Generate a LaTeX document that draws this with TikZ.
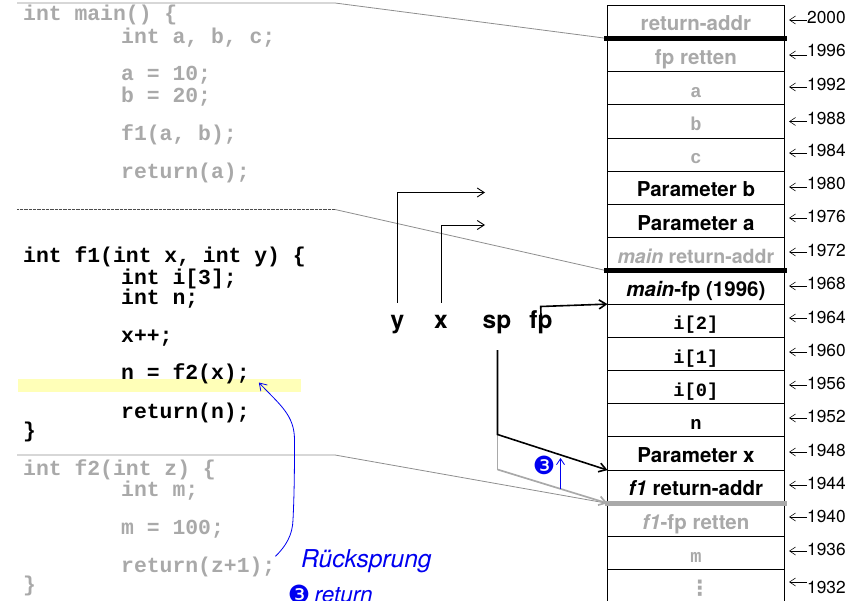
\documentclass[tikz,border=0pt]{standalone}
\usepackage{fontspec}
\setmainfont{TeX Gyre Heros}
\setmonofont{Liberation Mono}
\newfontfamily\dejavu{DejaVu Sans}
\usetikzlibrary{arrows.meta,calc}
\definecolor{fade}{HTML}{A9A9A9}
\definecolor{lead}{HTML}{8E8E8E}
\definecolor{jump}{HTML}{0000F0}
\definecolor{band}{HTML}{FFFFB8}
\tikzset{
  x=1pt,y=-1pt,
  codeline/.style={anchor=base west,inner sep=0pt,font=\fontsize{21.4}{24}\selectfont\ttfamily\bfseries},
  codefade/.style={codeline,text=fade},
  codeblack/.style={codeline,text=black},
  cell/.style={draw=black,line width=0.9pt,anchor=north,minimum width=176.8pt,minimum height=33.2pt,
    inner sep=0pt,outer sep=0pt,text height=25.7pt,text depth=7.5pt,font=\fontsize{20.5}{24}\selectfont\bfseries},
  cellmono/.style={cell,font=\fontsize{18.7}{24}\selectfont\ttfamily\bfseries},
  addr/.style={anchor=base west,inner sep=0pt,font=\fontsize{17.3}{20}\selectfont},
  addrarrow/.style={line width=0.6pt,-{Straight Barb[length=6pt,width=8pt]}},
  var/.style={anchor=base,inner sep=0pt,text height=25pt,font=\fontsize{24.5}{27}\selectfont\bfseries},
  openarrow/.style={-{Straight Barb[length=7pt,width=9pt]}},
  leader/.style={draw=lead,line width=0.8pt},
  bar/.style={line width=5.2pt},
  jumptext/.style={inner sep=0pt,text=jump,font=\fontsize{22.5}{26}\selectfont\itshape},
  jumpmark/.style={inner sep=0pt,text=jump,font=\fontsize{25}{28}\selectfont\dejavu},
}
\begin{document}
\begin{tikzpicture}
\useasboundingbox (0,0) rectangle (866,601);
\clip (0,0) rectangle (866,601);
\fill[band] (18,379) rectangle (301,392);

% main
\node[codefade] (m1) at (23,21) {int main() \{};
\node[codefade] (m2) at (121,44) {int a, b, c;};
\node[codefade] (m3) at (121,81) {a = 10;};
\node[codefade] (m4) at (121,103) {b = 20;};
\node[codefade] (m5) at (121,141) {f1(a, b);};
\node[codefade] (m6) at (121,179) {return(a);};
% f1
\node[codeblack] (f1) at (23,262) {int f1(int x, int y) \{};
\node[codeblack] (f2) at (121,284) {int i[3];};
\node[codeblack] (f3) at (121,304) {int n;};
\node[codeblack] (f4) at (121,342) {x++;};
\node[codeblack] (call) at (121,379.5) {n = f2(x);};
\node[codeblack] (f6) at (121,418) {return(n);};
\node[codeblack] (f7) at (23,437) {\}};
% f2
\node[codefade] (g1) at (23,475) {int f2(int z) \{};
\node[codefade] (g2) at (121,496) {int m;};
\node[codefade] (g3) at (121,534) {m = 100;};
\node[codefade] (ret) at (121,572) {return(z+1);};
\node[codefade] (g5) at (23,591) {\}};

% stack
\node[cell,text=fade] (r1) at (695.9,5.3) {return-addr};
\node[cell,text=fade] (r2) at (r1.south) {fp retten};
\node[cellmono,text=fade] (r3) at (r2.south) {a};
\node[cellmono,text=fade] (r4) at (r3.south) {b};
\node[cellmono,text=fade] (r5) at (r4.south) {c};
\node[cell] (r6) at (r5.south) {Parameter b};
\node[cell] (r7) at (r6.south) {Parameter a};
\node[cell,text=fade,font=\fontsize{19.6}{24}\selectfont\bfseries] (r8) at (r7.south) {\textit{main} return-addr};
\node[cell] (r9) at (r8.south) {\textit{main}-fp (1996)};
\node[cellmono] (r10) at (r9.south) {i[2]};
\node[cellmono] (r11) at (r10.south) {i[1]};
\node[cellmono] (r12) at (r11.south) {i[0]};
\node[cellmono] (r13) at (r12.south) {n};
\node[cell] (r14) at (r13.south) {Parameter x};
\node[cell] (r15) at (r14.south) {\textit{f1} return-addr};
\node[cell,text=fade] (r16) at (r15.south) {\textit{f1}-fp retten};
\node[cellmono,text=fade] (r17) at (r16.south) {m};
\node[cell,text=fade,font=\fontsize{21}{24}\selectfont\dejavu\bfseries] (r18) at (r17.south) {\hspace*{8pt}⋮};

% leaders from the code to the stack
\coordinate (t1) at (17,3);
\coordinate (t1b) at (335,3);
\coordinate (t2) at (17,209.5);
\coordinate (t2b) at (335,209.5);
\coordinate (t3) at (17,455);
\coordinate (t3b) at (335,455);
\draw[leader] (t1) -- (t1b) -- (r1.south west);
\draw[leader,draw=black!70,dash pattern=on 0.8pt off 0.5pt] (t2) -- (t2b);
\draw[leader] (t2b) -- (r8.south west);
\draw[leader] (t3) -- (t3b) -- (r15.south west);

% variables
\node[var] (vy) at (397.5,328) {y};
\node[var] (vx) at (441,328) {x};
\node[var,text depth=22pt] (vsp) at (497,328) {sp};
\node[var] (vfp) at (541,328) {fp};
\coordinate (ey) at (485,192.5);
\coordinate (ex) at (485,225);
\coordinate (kfp) at (540.7,306.5);
\coordinate (ksp) at (497.5,434.5);
\coordinate (kold) at (497.5,469.5);
\draw[line width=0.9pt,openarrow] (vy.north) |- (ey);
\draw[line width=0.9pt,openarrow] (vx.north) |- (ex);
\draw[line width=1.6pt,openarrow] ([yshift=13pt]vfp.base) -- (kfp) -- (r9.south west);
\draw[line width=1.7pt,fade] (ksp) -- (kold);
\draw[line width=1.7pt,fade,openarrow] (kold) -- (r15.south west);
\draw[line width=1.6pt,openarrow] (ksp |- vsp.south) -- (ksp) -- (r14.south west);

% bars
\draw[bar] ([xshift=-3.5pt]r1.south west) -- ([xshift=2.5pt]r1.south east);
\draw[bar] ([xshift=-3.5pt]r8.south west) -- ([xshift=2.5pt]r8.south east);
\draw[bar,fade] ([xshift=-2.5pt]r15.south west) -- ([xshift=2.5pt]r15.south east);

% addresses
\foreach \v/\b/\s/\i in {2000/24/4/1,1996/57/2/2,1992/91/4/3,1988/125/3.5/4,1984/157/4/5,1980/190/3/6,
  1976/223/5/7,1972/257/5/8,1968/290/4/9,1964/323/5/10,1960/356/4/11,1956/389/4/12,
  1952/422/4/13,1948/456/4/14,1944/489/4/15,1940/522/5/16,1936/555/4/17,1932/593/11/18}{
  \node[addr] (a\v) at (807,\b) {\v};
  \coordinate (s\v) at ([yshift=\s pt]a\v.base west);
  \draw[addrarrow] (s\v) -- ([xshift=4.7pt]r\i.east |- s\v);
}

% return jump
\draw[jump,line width=0.8pt,-{Straight Barb[length=7pt,width=9pt]}]
  (ret.north east) .. controls (286,546) and (292.5,535) .. (293,520)
  .. controls (294.5,490) and (294.5,460) .. (294.5,440)
  .. controls (294.5,415) and (280,405) .. ([xshift=9pt,yshift=-3pt]call.base east);
\node[jumptext,anchor=base west,font=\fontsize{24.6}{28}\selectfont\itshape] (rueck) at (301,567) {Rücksprung};
\node[jumpmark] (n3a) at (299,594) {❸};
\node[jumptext,anchor=base west] (retx) at (314.5,602) {return};

% stack pointer move
\coordinate (up0) at (560.5,489);
\coordinate (up1) at (560.5,458);
\draw[jump,line width=0.8pt,-{Straight Barb[length=6pt,width=8pt]}] (up0) -- (up1);
\node[jumpmark] (n3b) at (544,465) {❸};
\end{tikzpicture}
\end{document}
